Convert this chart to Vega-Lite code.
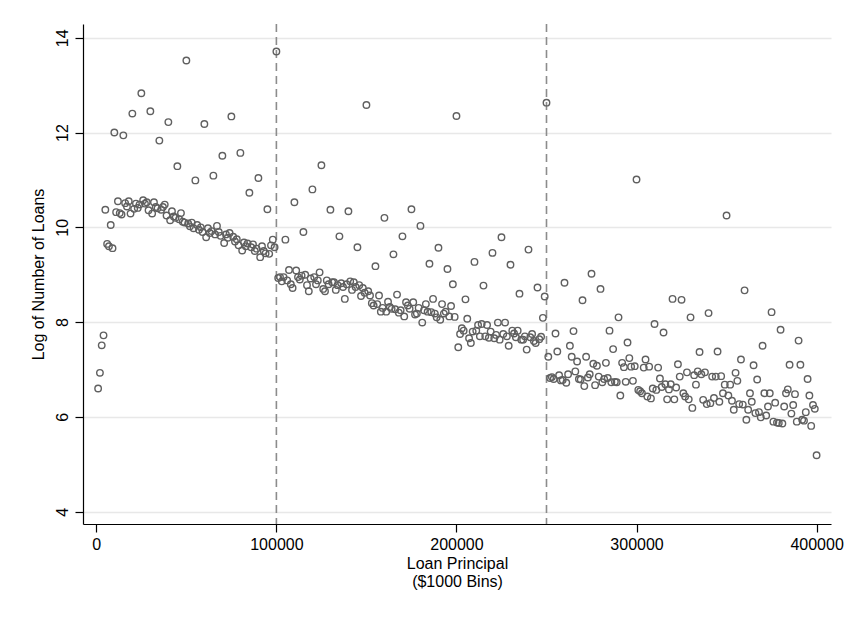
{
  "$schema": "https://vega.github.io/schema/vega-lite/v6.json",
  "width": 748,
  "height": 500,
  "autosize": {"type": "none"},
  "padding": {"left": 83, "top": 24, "right": 20, "bottom": 93},
  "background": "white",
  "config": {
    "view": {"stroke": null},
    "font": "Liberation Sans",
    "axis": {
      "domainColor": "#000000",
      "domainWidth": 1.2,
      "tickColor": "#000000",
      "tickWidth": 1.2,
      "tickSize": 8,
      "labelColor": "#000000",
      "labelFontSize": 16,
      "titleColor": "#000000",
      "titleFontSize": 16,
      "titleFontWeight": "normal",
      "labelFlush": false,
      "labelOverlap": false
    }
  },
  "layer": [
    {
      "data": {"values": [{"cut": 100000}, {"cut": 250000}]},
      "mark": {"type": "rule", "color": "#8c8c8c", "strokeDash": [8, 5], "strokeWidth": 1.6},
      "encoding": {
        "x": {"field": "cut", "type": "quantitative", "scale": {"domain": [-7400, 408000], "nice": false, "zero": false}}
      }
    },
    {
      "data": {"values": [
{"x":1000,"y":6.60},{"x":2000,"y":6.93},{"x":3000,"y":7.51},{"x":4000,"y":7.72},{"x":5000,"y":10.37},{"x":6000,"y":9.65},{"x":7000,"y":9.60},{"x":8000,"y":10.05},{"x":9000,"y":9.56},{"x":10000,"y":12.00},
{"x":11000,"y":10.32},{"x":12000,"y":10.55},{"x":13000,"y":10.30},{"x":14000,"y":10.27},{"x":15000,"y":11.94},{"x":16000,"y":10.51},{"x":17000,"y":10.44},{"x":18000,"y":10.55},{"x":19000,"y":10.29},{"x":20000,"y":12.40},
{"x":21000,"y":10.39},{"x":22000,"y":10.50},{"x":23000,"y":10.41},{"x":24000,"y":10.48},{"x":25000,"y":12.83},{"x":26000,"y":10.57},{"x":27000,"y":10.50},{"x":28000,"y":10.53},{"x":29000,"y":10.36},{"x":30000,"y":12.45},
{"x":31000,"y":10.29},{"x":32000,"y":10.53},{"x":33000,"y":10.43},{"x":34000,"y":10.40},{"x":35000,"y":11.83},{"x":36000,"y":10.37},{"x":37000,"y":10.43},{"x":38000,"y":10.48},{"x":39000,"y":10.25},{"x":40000,"y":12.22},
{"x":41000,"y":10.15},{"x":42000,"y":10.34},{"x":43000,"y":10.23},{"x":44000,"y":10.20},{"x":45000,"y":11.29},{"x":46000,"y":10.17},{"x":47000,"y":10.30},{"x":48000,"y":10.12},{"x":49000,"y":10.10},{"x":50000,"y":13.52},
{"x":51000,"y":10.08},{"x":52000,"y":10.02},{"x":53000,"y":10.10},{"x":54000,"y":9.98},{"x":55000,"y":10.99},{"x":56000,"y":10.05},{"x":57000,"y":9.95},{"x":58000,"y":10.00},{"x":59000,"y":9.90},{"x":60000,"y":12.18},
{"x":61000,"y":9.79},{"x":62000,"y":9.98},{"x":63000,"y":9.88},{"x":64000,"y":9.92},{"x":65000,"y":11.09},{"x":66000,"y":9.85},{"x":67000,"y":10.03},{"x":68000,"y":9.90},{"x":69000,"y":9.82},{"x":70000,"y":11.51},
{"x":71000,"y":9.67},{"x":72000,"y":9.85},{"x":73000,"y":9.78},{"x":74000,"y":9.88},{"x":75000,"y":12.34},{"x":76000,"y":9.80},{"x":77000,"y":9.70},{"x":78000,"y":9.75},{"x":79000,"y":9.62},{"x":80000,"y":11.57},
{"x":81000,"y":9.51},{"x":82000,"y":9.68},{"x":83000,"y":9.60},{"x":84000,"y":9.66},{"x":85000,"y":10.73},{"x":86000,"y":9.58},{"x":87000,"y":9.64},{"x":88000,"y":9.50},{"x":89000,"y":9.55},{"x":90000,"y":11.04},
{"x":91000,"y":9.37},{"x":92000,"y":9.60},{"x":93000,"y":9.50},{"x":94000,"y":9.45},{"x":95000,"y":10.38},{"x":96000,"y":9.44},{"x":97000,"y":9.62},{"x":98000,"y":9.74},{"x":99000,"y":9.58},{"x":100000,"y":13.71},
{"x":101000,"y":8.93},{"x":102000,"y":8.95},{"x":103000,"y":8.86},{"x":104000,"y":8.95},{"x":105000,"y":9.74},{"x":106000,"y":8.88},{"x":107000,"y":9.10},{"x":108000,"y":8.80},{"x":109000,"y":8.72},{"x":110000,"y":10.53},
{"x":111000,"y":9.09},{"x":112000,"y":8.95},{"x":113000,"y":8.90},{"x":114000,"y":8.98},{"x":115000,"y":9.90},{"x":116000,"y":9.00},{"x":117000,"y":8.78},{"x":118000,"y":8.65},{"x":119000,"y":8.92},{"x":120000,"y":10.80},
{"x":121000,"y":8.95},{"x":122000,"y":8.80},{"x":123000,"y":8.88},{"x":124000,"y":9.05},{"x":125000,"y":11.31},{"x":126000,"y":8.70},{"x":127000,"y":8.65},{"x":128000,"y":8.88},{"x":129000,"y":8.80},{"x":130000,"y":10.37},
{"x":131000,"y":8.84},{"x":132000,"y":8.84},{"x":133000,"y":8.68},{"x":134000,"y":8.78},{"x":135000,"y":9.81},{"x":136000,"y":8.82},{"x":137000,"y":8.74},{"x":138000,"y":8.49},{"x":139000,"y":8.80},{"x":140000,"y":10.34},
{"x":141000,"y":8.86},{"x":142000,"y":8.68},{"x":143000,"y":8.84},{"x":144000,"y":8.74},{"x":145000,"y":9.58},{"x":146000,"y":8.78},{"x":147000,"y":8.55},{"x":148000,"y":8.72},{"x":149000,"y":8.62},{"x":150000,"y":12.58},
{"x":151000,"y":8.65},{"x":152000,"y":8.56},{"x":153000,"y":8.40},{"x":154000,"y":8.35},{"x":155000,"y":9.18},{"x":156000,"y":8.38},{"x":157000,"y":8.56},{"x":158000,"y":8.22},{"x":159000,"y":8.30},{"x":160000,"y":10.20},
{"x":161000,"y":8.22},{"x":162000,"y":8.43},{"x":163000,"y":8.32},{"x":164000,"y":8.28},{"x":165000,"y":9.43},{"x":166000,"y":8.27},{"x":167000,"y":8.58},{"x":168000,"y":8.20},{"x":169000,"y":8.25},{"x":170000,"y":9.81},
{"x":171000,"y":8.12},{"x":172000,"y":8.42},{"x":173000,"y":8.35},{"x":174000,"y":8.28},{"x":175000,"y":10.38},{"x":176000,"y":8.42},{"x":177000,"y":8.16},{"x":178000,"y":8.18},{"x":179000,"y":8.30},{"x":180000,"y":10.03},
{"x":181000,"y":7.99},{"x":182000,"y":8.25},{"x":183000,"y":8.38},{"x":184000,"y":8.22},{"x":185000,"y":9.23},{"x":186000,"y":8.21},{"x":187000,"y":8.49},{"x":188000,"y":8.18},{"x":189000,"y":8.10},{"x":190000,"y":9.57},
{"x":191000,"y":8.05},{"x":192000,"y":8.38},{"x":193000,"y":8.18},{"x":194000,"y":8.22},{"x":195000,"y":9.12},{"x":196000,"y":8.12},{"x":197000,"y":8.34},{"x":198000,"y":8.80},{"x":199000,"y":8.11},{"x":200000,"y":12.35},
{"x":201000,"y":7.47},{"x":202000,"y":7.75},{"x":203000,"y":7.87},{"x":204000,"y":7.82},{"x":205000,"y":8.48},{"x":206000,"y":8.07},{"x":207000,"y":7.66},{"x":208000,"y":7.56},{"x":209000,"y":7.80},{"x":210000,"y":9.27},
{"x":211000,"y":7.82},{"x":212000,"y":7.94},{"x":213000,"y":7.70},{"x":214000,"y":7.96},{"x":215000,"y":8.77},{"x":216000,"y":7.70},{"x":217000,"y":7.94},{"x":218000,"y":7.67},{"x":219000,"y":7.80},{"x":220000,"y":9.46},
{"x":221000,"y":7.66},{"x":222000,"y":7.73},{"x":223000,"y":7.99},{"x":224000,"y":7.63},{"x":225000,"y":9.79},{"x":226000,"y":7.75},{"x":227000,"y":7.99},{"x":228000,"y":7.70},{"x":229000,"y":7.50},{"x":230000,"y":9.21},
{"x":231000,"y":7.82},{"x":232000,"y":7.76},{"x":233000,"y":7.68},{"x":234000,"y":7.82},{"x":235000,"y":8.60},{"x":236000,"y":7.63},{"x":237000,"y":7.63},{"x":238000,"y":7.70},{"x":239000,"y":7.42},{"x":240000,"y":9.53},
{"x":241000,"y":7.68},{"x":242000,"y":7.75},{"x":243000,"y":7.60},{"x":244000,"y":7.56},{"x":245000,"y":8.73},{"x":246000,"y":7.64},{"x":247000,"y":7.69},{"x":248000,"y":8.09},{"x":249000,"y":8.54},{"x":250000,"y":12.63},
{"x":251000,"y":7.27},{"x":252000,"y":6.82},{"x":253000,"y":6.84},{"x":254000,"y":6.80},{"x":255000,"y":7.76},{"x":256000,"y":7.38},{"x":257000,"y":6.88},{"x":258000,"y":6.77},{"x":259000,"y":6.78},{"x":260000,"y":8.83},
{"x":261000,"y":6.72},{"x":262000,"y":6.90},{"x":263000,"y":7.50},{"x":264000,"y":7.27},{"x":265000,"y":7.81},{"x":266000,"y":6.96},{"x":267000,"y":7.17},{"x":268000,"y":6.80},{"x":269000,"y":6.79},{"x":270000,"y":8.46},
{"x":271000,"y":6.65},{"x":272000,"y":7.27},{"x":273000,"y":6.83},{"x":274000,"y":6.90},{"x":275000,"y":9.02},{"x":276000,"y":7.12},{"x":277000,"y":6.67},{"x":278000,"y":7.08},{"x":279000,"y":6.85},{"x":280000,"y":8.70},
{"x":281000,"y":6.73},{"x":282000,"y":6.80},{"x":283000,"y":7.14},{"x":284000,"y":6.82},{"x":285000,"y":7.82},{"x":286000,"y":6.73},{"x":287000,"y":7.43},{"x":288000,"y":6.74},{"x":289000,"y":6.73},{"x":290000,"y":8.10},
{"x":291000,"y":6.45},{"x":292000,"y":7.14},{"x":293000,"y":7.05},{"x":294000,"y":6.74},{"x":295000,"y":7.57},{"x":296000,"y":7.24},{"x":297000,"y":7.06},{"x":298000,"y":6.76},{"x":299000,"y":7.07},{"x":300000,"y":11.01},
{"x":301000,"y":6.57},{"x":302000,"y":6.54},{"x":303000,"y":6.50},{"x":304000,"y":7.04},{"x":305000,"y":7.21},{"x":306000,"y":6.43},{"x":307000,"y":7.06},{"x":308000,"y":6.39},{"x":309000,"y":6.60},{"x":310000,"y":7.96},
{"x":311000,"y":6.57},{"x":312000,"y":7.04},{"x":313000,"y":6.81},{"x":314000,"y":6.63},{"x":315000,"y":7.78},{"x":316000,"y":6.69},{"x":317000,"y":6.37},{"x":318000,"y":6.58},{"x":319000,"y":6.69},{"x":320000,"y":8.49},
{"x":321000,"y":6.37},{"x":322000,"y":6.62},{"x":323000,"y":7.11},{"x":324000,"y":6.85},{"x":325000,"y":8.47},{"x":326000,"y":6.50},{"x":327000,"y":6.43},{"x":328000,"y":6.94},{"x":329000,"y":6.37},{"x":330000,"y":8.10},
{"x":331000,"y":6.19},{"x":332000,"y":6.88},{"x":333000,"y":6.68},{"x":334000,"y":6.96},{"x":335000,"y":7.37},{"x":336000,"y":6.90},{"x":337000,"y":6.36},{"x":338000,"y":6.94},{"x":339000,"y":6.27},{"x":340000,"y":8.19},
{"x":341000,"y":6.29},{"x":342000,"y":6.85},{"x":343000,"y":6.40},{"x":344000,"y":6.85},{"x":345000,"y":7.38},{"x":346000,"y":6.32},{"x":347000,"y":6.86},{"x":348000,"y":6.50},{"x":349000,"y":6.68},{"x":350000,"y":10.25},
{"x":351000,"y":6.45},{"x":352000,"y":6.68},{"x":353000,"y":6.34},{"x":354000,"y":6.15},{"x":355000,"y":6.93},{"x":356000,"y":6.76},{"x":357000,"y":6.27},{"x":358000,"y":7.21},{"x":359000,"y":6.26},{"x":360000,"y":8.67},
{"x":361000,"y":5.94},{"x":362000,"y":6.15},{"x":363000,"y":6.50},{"x":364000,"y":6.32},{"x":365000,"y":7.09},{"x":366000,"y":6.08},{"x":367000,"y":6.79},{"x":368000,"y":6.10},{"x":369000,"y":5.99},{"x":370000,"y":7.50},
{"x":371000,"y":6.50},{"x":372000,"y":6.03},{"x":373000,"y":6.22},{"x":374000,"y":6.50},{"x":375000,"y":8.21},{"x":376000,"y":5.90},{"x":377000,"y":6.30},{"x":378000,"y":5.88},{"x":379000,"y":5.87},{"x":380000,"y":7.84},
{"x":381000,"y":5.86},{"x":382000,"y":6.22},{"x":383000,"y":6.50},{"x":384000,"y":6.58},{"x":385000,"y":7.10},{"x":386000,"y":6.07},{"x":387000,"y":6.25},{"x":388000,"y":6.48},{"x":389000,"y":5.90},{"x":390000,"y":7.61},
{"x":391000,"y":7.10},{"x":392000,"y":5.94},{"x":393000,"y":5.92},{"x":394000,"y":6.10},{"x":395000,"y":6.80},{"x":396000,"y":6.45},{"x":397000,"y":5.81},{"x":398000,"y":6.25},{"x":399000,"y":6.17},{"x":400000,"y":5.19}
      ]},
      "mark": {"type": "point", "shape": "circle", "filled": false, "color": "#606060", "size": 42, "strokeWidth": 1.4, "opacity": 1},
      "encoding": {
        "x": {
          "field": "x", "type": "quantitative",
          "scale": {"domain": [-7400, 408000], "nice": false, "zero": false},
          "axis": {
            "values": [0, 100000, 200000, 300000, 400000],
            "format": "d",
            "grid": false,
            "labelPadding": 4,
            "title": ["Loan Principal", "($1000 Bins)"],
            "titlePadding": 3,
            "titleLineHeight": 18
          }
        },
        "y": {
          "field": "y", "type": "quantitative",
          "scale": {"domain": [3.74, 14.29], "nice": false, "zero": false},
          "axis": {
            "values": [4, 6, 8, 10, 12, 14],
            "grid": true,
            "gridColor": "#e8e8e8",
            "gridWidth": 1.3,
            "labelAngle": -90,
            "labelAlign": "center",
            "labelBaseline": "alphabetic",
            "labelPadding": 8,
            "title": "Log of Number of Loans",
            "titlePadding": 8
          }
        }
      }
    }
  ]
}
